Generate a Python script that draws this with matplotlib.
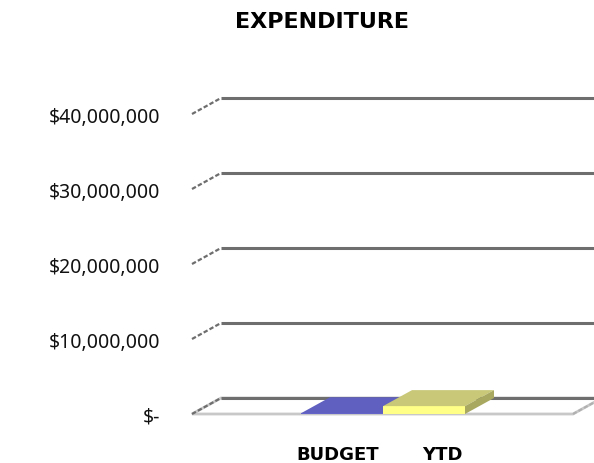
import numpy as np
import matplotlib.pyplot as plt
from matplotlib.patches import Polygon

# Datos del grafico
categories = ["BUDGET", "YTD"]
values = [100000, 1050000]
tick_values = [0, 10000000, 20000000, 30000000, 40000000]
tick_labels = ["$-", "$10,000,000", "$20,000,000", "$30,000,000", "$40,000,000"]

# colores: frente, arriba, lado
front_colors = ["#6666cc", "#ffff88"]
top_colors = ["#6060c0", "#c8c878"]
side_colors = ["#4c4c9a", "#a8a860"]

# escala en pixeles
px_x = 82.0          # pixeles por unidad de categoria
px_y = 75.0 / 1e7    # pixeles por dolar
x0 = 342.0           # pixel del centro de la primera barra
y0 = 49.0            # pixel (desde abajo) de la base frontal

fig = plt.figure(figsize=(5.94, 4.64), dpi=100)
ax = fig.add_axes([0, 0, 1, 1])
ax.set_xlim(-x0 / px_x, (594 - x0) / px_x)
ax.set_ylim(-y0 / px_y, (464 - y0) / px_y)
ax.axis("off")

# profundidad 3D
dx = 29 / px_x
dy = 16 / px_y
floor_l = (192 - x0) / px_x
floor_r = (573 - x0) / px_x
xmax = ax.get_xlim()[1]

# piso
floor = Polygon([(floor_l, 0), (floor_r, 0), (floor_r + dx, dy), (floor_l + dx, dy)],
                closed=True, facecolor="white", edgecolor="#c8c8c8", lw=2, zorder=1)
ax.add_patch(floor)
ax.plot([floor_r, floor_r + dx], [0, dy], color="#b0b0b0", lw=1.5, ls=(0, (2, 1)), zorder=2)

# lineas de cuadricula
for v, lab in zip(tick_values, tick_labels):
    ax.plot([floor_l + dx, xmax], [v + dy, v + dy], color="#6e6e6e", lw=2.2, zorder=2,
            solid_capstyle="butt")
    ax.plot([floor_l, floor_l + dx], [v, v + dy], color="#6e6e6e", lw=1.6,
            ls=(0, (2, 1)), zorder=2)
    ax.text((160 - x0) / px_x, v - 3 / px_y, lab, ha="right", va="center", fontsize=14,
            color="#111111", family=["Noto Sans", "DejaVu Sans"])

# barras
for i, (cat, v) in enumerate(zip(categories, values)):
    l, r = i - 0.5, i + 0.5
    front = Polygon([(l, 0), (r, 0), (r, v), (l, v)], facecolor=front_colors[i],
                    edgecolor="none", zorder=3 + i)
    top = Polygon([(l, v), (r, v), (r + dx, v + dy), (l + dx, v + dy)],
                  facecolor=top_colors[i], edgecolor="none", zorder=3 + i)
    side = Polygon([(r, 0), (r + dx, dy), (r + dx, v + dy), (r, v)],
                   facecolor=side_colors[i], edgecolor="none", zorder=3 + i)
    for p in (front, top, side):
        ax.add_patch(p)

# etiquetas de categoria
label_x = np.arange(len(categories)) * 1.27 - 0.05
for x, cat in zip(label_x, categories):
    ax.text(x, (9 - y0) / px_y, cat, ha="center", va="center", fontsize=13,
            fontweight="bold")

fig.text(0.542, 0.952, "EXPENDITURE", ha="center", va="center", fontsize=16,
         fontweight="bold")

plt.savefig("out.png", dpi=100)
